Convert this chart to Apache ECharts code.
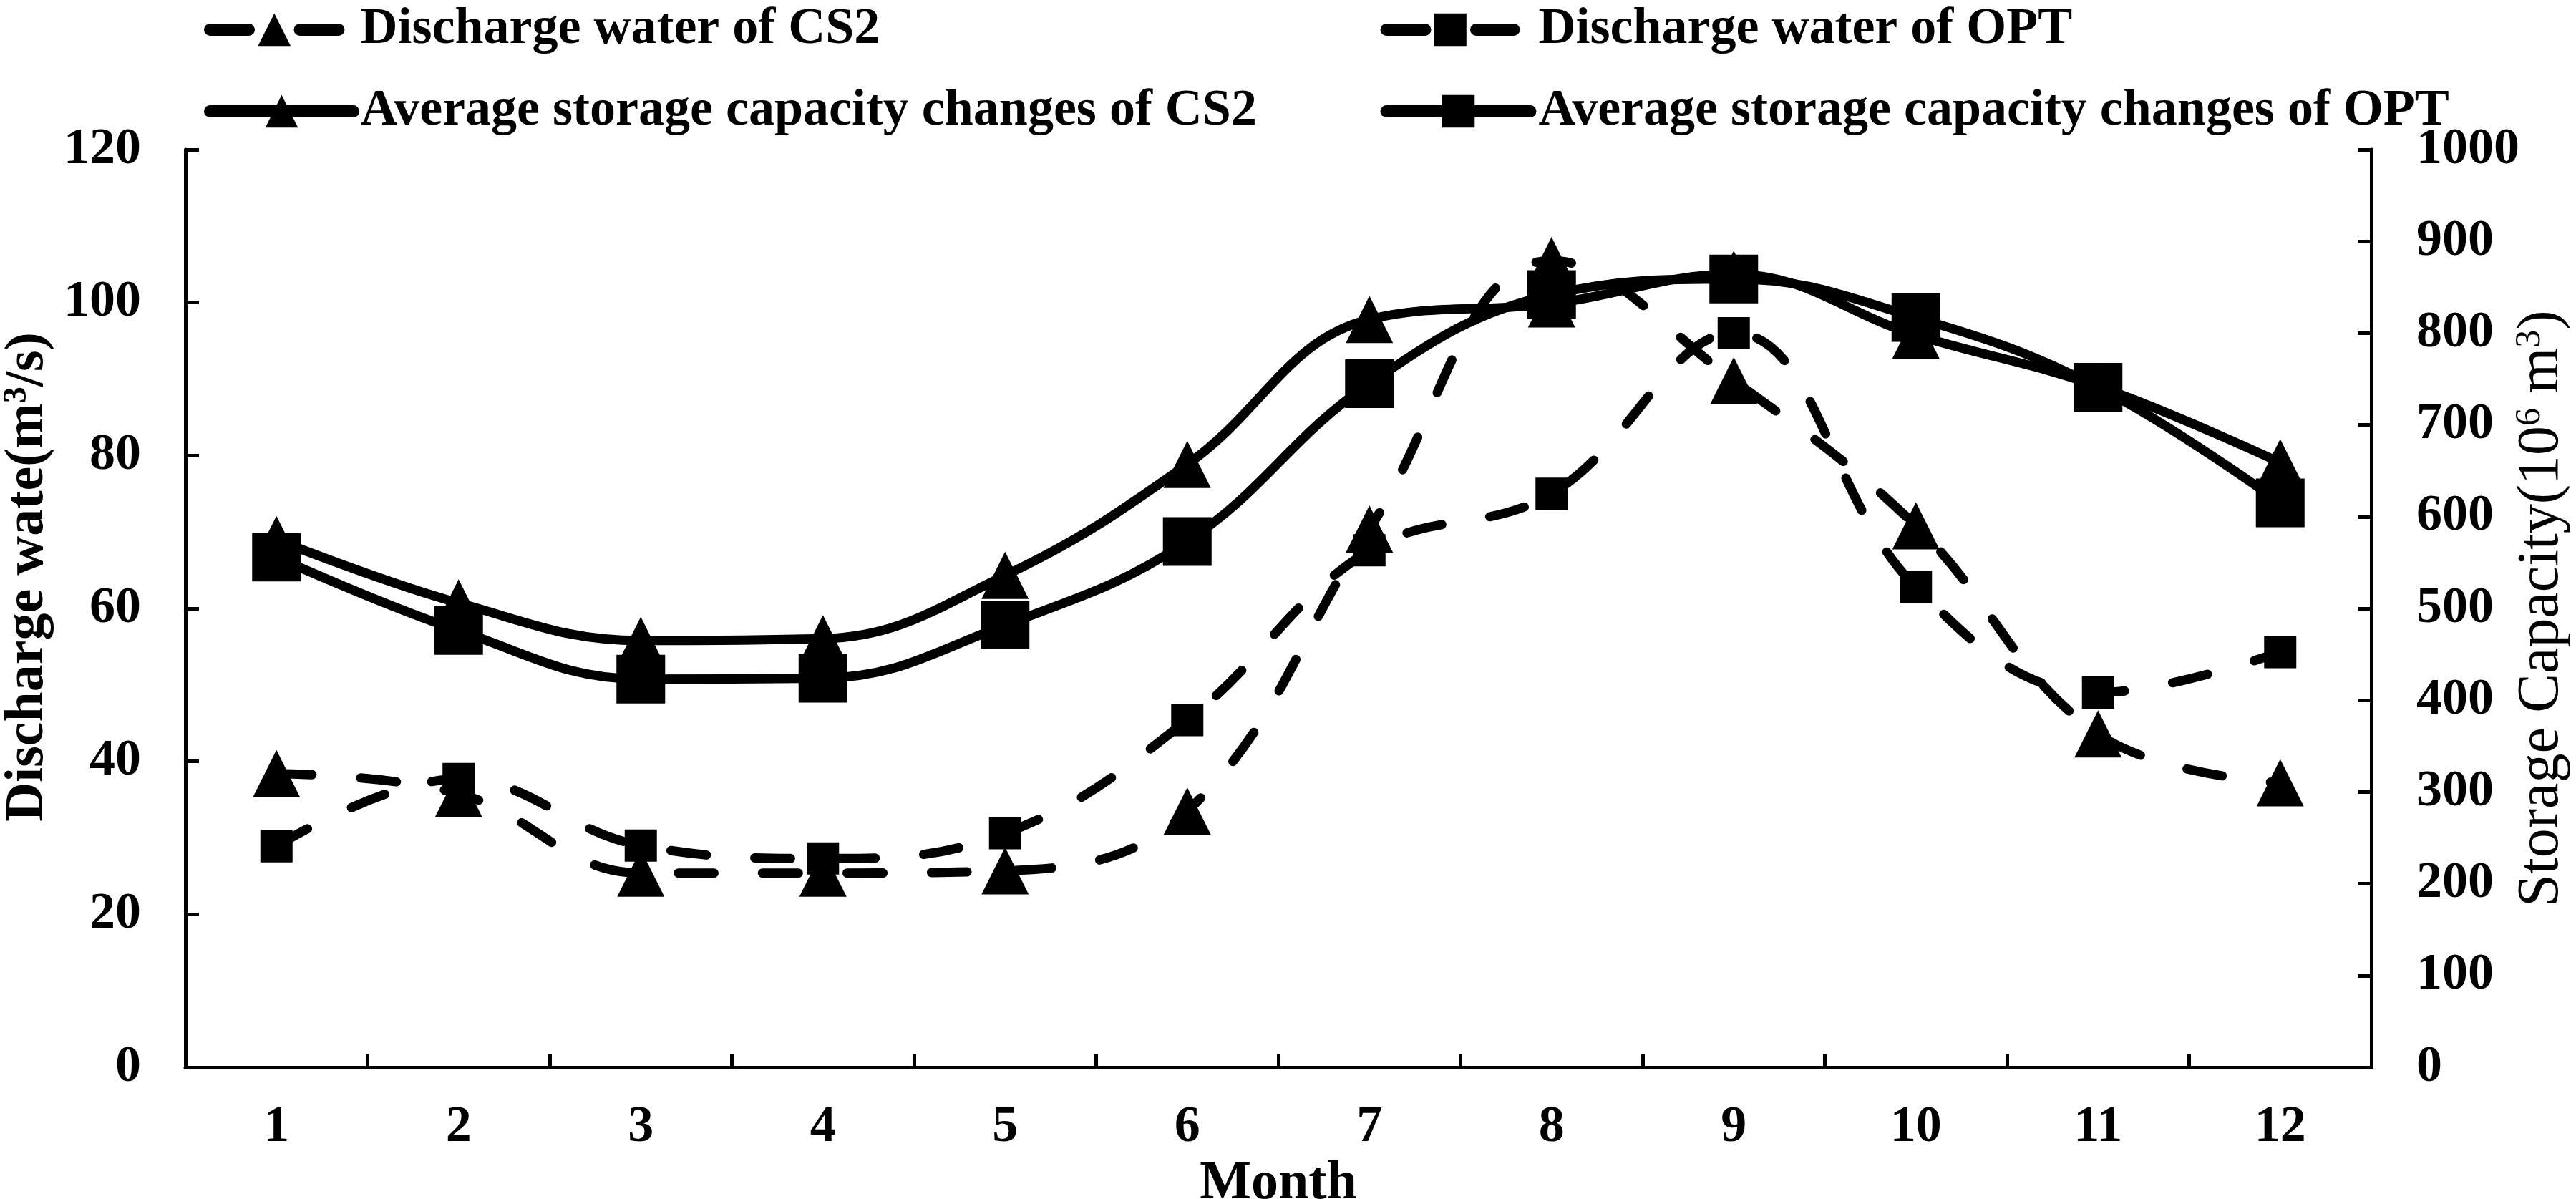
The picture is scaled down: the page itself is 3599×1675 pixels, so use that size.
<!DOCTYPE html>
<html>
<head>
<meta charset="utf-8">
<script src="https://cdn.jsdelivr.net/npm/echarts@6/dist/echarts.min.js"></script>
<style>
html, body { margin: 0; padding: 0; background: #fff; }
#main { width: 3599px; height: 1675px; }
</style>
</head>
<body>
<div id="main"></div>
<script>
// months on the x axis
var months = ['1', '2', '3', '4', '5', '6', '7', '8', '9', '10', '11', '12'];
// discharge water, m3/s (left axis)
var cs2Discharge = [38.4, 35.8, 25.4, 25.4, 25.7, 33.5, 70.4, 105.5, 89.8, 70.8, 43.6, 37.2];
var optDischarge = [28.9, 37.7, 29.0, 27.3, 30.6, 45.4, 67.6, 75.0, 96.0, 62.8, 49.0, 54.3];
// average storage capacity changes, 10^6 m3 (right axis)
var cs2Storage = [575, 506, 465, 467, 536, 657, 815, 832, 864, 798, 742, 659];
var optStorage = [556, 476, 423, 424, 482, 573, 745, 842, 859, 817, 741, 615];

var names = [
	'Discharge water of CS2',
	'Discharge water of OPT',
	'Average storage capacity changes of CS2',
	'Average storage capacity changes of OPT'
];

var FONT = "'Liberation Serif', 'Times New Roman', serif";
var dash = [50, 68];

function axisStyle() {
	return {
		axisLine: { show: true, lineStyle: { color: '#000', width: 5 } },
		axisTick: { show: true, inside: true, length: 19, lineStyle: { color: '#000', width: 5 } },
		splitLine: { show: false }
	};
}

function legendItem(name, left, top, width, padding, dashed) {
	return {
		data: [name],
		left: left,
		top: top,
		orient: 'horizontal',
		itemWidth: width,
		itemHeight: 57,
		selectedMode: false,
		lineStyle: { width: 17, cap: 'round', type: dashed ? [54, 71.5] : 'solid' },
		textStyle: {
			fontFamily: FONT, fontSize: 72, fontWeight: 'bold', color: '#000',
			padding: [0, 0, 0, padding]
		}
	};
}

var chart = echarts.init(document.getElementById('main'));

var xAxis = Object.assign(axisStyle(), {
	type: 'category',
	data: months,
	boundaryGap: true,
	axisLabel: { margin: 48, fontFamily: FONT, fontSize: 72, fontWeight: 'bold', color: '#000' },
	name: 'Month',
	nameLocation: 'middle',
	nameGap: 118,
	nameTextStyle: { fontFamily: FONT, fontSize: 76, fontWeight: 'bold', color: '#000' }
});

var leftAxis = Object.assign(axisStyle(), {
	type: 'value',
	position: 'left',
	min: 0, max: 120, interval: 20,
	axisLabel: { margin: 62, fontFamily: FONT, fontSize: 72, fontWeight: 'bold', color: '#000' },
	name: 'Discharge wate(m{sup|3}/s)',
	nameLocation: 'middle',
	nameGap: 182,
	nameMoveOverlap: false,
	nameTextStyle: {
		fontFamily: FONT, fontSize: 76, fontWeight: 'bold', color: '#000',
		padding: [0, 0, 0, 88],
		rich: { sup: { fontFamily: FONT, fontSize: 46, fontWeight: 'bold', color: '#000', verticalAlign: 'top' } }
	}
});

var rightAxis = Object.assign(axisStyle(), {
	type: 'value',
	position: 'right',
	min: 0, max: 1000, interval: 100,
	axisLabel: {
		margin: 63, fontFamily: FONT, fontSize: 72, fontWeight: 'bold', color: '#000',
		formatter: function (v) { return String(v); }
	},
	name: 'Storage Capacity(10{sup|6} m{sup|3})',
	nameLocation: 'middle',
	nameGap: 197,
	nameMoveOverlap: false,
	nameTextStyle: {
		fontFamily: FONT, fontSize: 82, fontWeight: 'normal', color: '#000',
		rich: { sup: { fontFamily: FONT, fontSize: 50, fontWeight: 'normal', color: '#000', verticalAlign: 'top' } }
	}
});

function lineSeries(name, data, axis, symbol, size, dashed) {
	return {
		name: name,
		type: 'line',
		data: data,
		yAxisIndex: axis,
		smooth: 0.4,
		symbol: symbol,
		symbolSize: size,
		showAllSymbol: true,
		itemStyle: { color: '#000' },
		lineStyle: { color: '#000', width: 13, cap: 'round', type: dashed ? dash : 'solid' },
		emphasis: { disabled: true },
		animation: false
	};
}

chart.setOption({
	backgroundColor: '#fff',
	animation: false,
	grid: { left: 259, right: 286, top: 209, bottom: 184, containLabel: false, outerBoundsMode: 'none' },
	legend: [
		legendItem(names[0], 280, 0.5, 179.5, 25.5, true),
		legendItem(names[1], 1923.5, 0.5, 178, 29.5, true),
		legendItem(names[2], 280, 114.5, 200, 5, false),
		legendItem(names[3], 1923.5, 114.5, 201, 6.5, false)
	],
	xAxis: xAxis,
	yAxis: [leftAxis, rightAxis],
	series: [
		lineSeries(names[0], cs2Discharge, 0, 'triangle', 66, true),
		lineSeries(names[1], optDischarge, 0, 'rect', 45, true),
		lineSeries(names[2], cs2Storage, 1, 'triangle', 66, false),
		lineSeries(names[3], optStorage, 1, 'rect', 68, false)
	]
});
</script>
</body>
</html>
